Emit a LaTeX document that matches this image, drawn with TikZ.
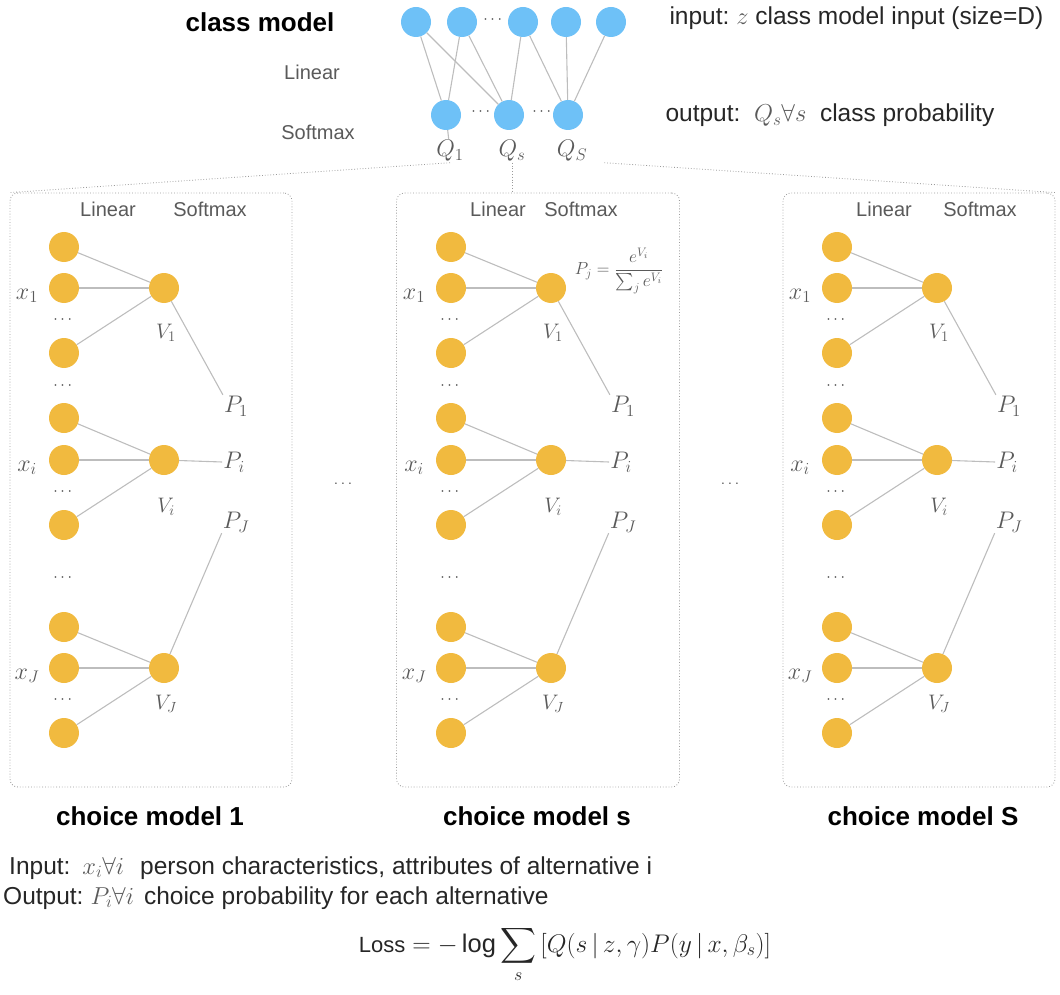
\RequirePackage{fix-cm}
\documentclass[tikz,border=0pt]{standalone}
\usepackage{amsmath}
\usepackage{fontspec}
\setmainfont{Liberation Sans}
\usetikzlibrary{positioning}
\definecolor{classblue}{HTML}{6EC1F7}
\definecolor{choiceorange}{HTML}{F1BA3F}
\definecolor{edgegray}{HTML}{BDBDBD}
\definecolor{labelgray}{HTML}{5A5A5A}
\definecolor{framegray}{HTML}{9A9A9A}
\tikzset{
  unit/.style={circle, minimum size=30pt, inner sep=0pt},
  cunit/.style={unit, fill=classblue},
  ounit/.style={unit, fill=choiceorange},
  edge/.style={draw=edgegray, line width=1.1pt},
  link/.style={draw=framegray, dotted, line width=0.8pt},
  modelbox/.style={draw=framegray, dotted, line width=0.8pt, rounded corners=8pt, minimum height=594pt},
  layertext/.style={text=labelgray, font=\fontsize{20}{24}\selectfont},
  title/.style={font=\fontsize{26}{30}\selectfont\bfseries},
  var/.style={text=labelgray, inner sep=1pt, font=\fontsize{24}{28}\selectfont},
  vlab/.style={text=labelgray, inner sep=1pt, font=\fontsize{21}{25}\selectfont},
  skip/.style={text=black!75, font=\fontsize{16}{18}\selectfont},
  note/.style={anchor=west, text=black!85, font=\fontsize{24.5}{28}\selectfont},
  footnote/.style={anchor=base west, inner sep=0pt, text=black!85, font=\fontsize{24.5}{28}\selectfont}
}
\begin{document}
\begin{tikzpicture}[x=1pt, y=-1pt]
\useasboundingbox (0,0) rectangle (1060,995);
% class model
\node[title] (classtitle) at (260,22) {class model};
\node[layertext] (classlin) at (312,72) {Linear};
\node[layertext] (classsoft) at (318,132) {Softmax};
\node[cunit] (z1) at (416,22) {};
\node[cunit] (z2) at (462,22) {};
\node[skip] (zdots) at (494,20) {$\cdots$};
\node[cunit] (z3) at (523,22) {};
\node[cunit] (z4) at (566,22) {};
\node[cunit] (z5) at (611,22) {};
\node[cunit] (q1) at (446,115) {};
\node[skip] (qdotsa) at (482,112) {$\cdots$};
\node[cunit] (qs) at (509,115) {};
\node[skip] (qdotsb) at (543,112) {$\cdots$};
\node[cunit] (qS) at (568,115) {};
\node[var] (lq1) at (450,151) {$Q_1$};
\node[var] (lqs) at (512,151) {$Q_s$};
\node[var] (lqS) at (572,151) {$Q_S$};
\draw[edge] (z1) -- (q1);
\draw[edge] (z1) -- (qs);
\draw[edge] (z2) -- (q1);
\draw[edge] (z2) -- (qs);
\draw[edge] (z3) -- (qs);
\draw[edge] (z3) -- (qS);
\draw[edge] (z4) -- (qS);
\draw[edge] (z5) -- (qS);
\draw[edge] (q1) -- (lq1);
\node[note] (classin) at (666,18) {input:~\textcolor{labelgray}{$z$}~class model input (size=D)};
\node[note] (classout) at (662,115) {output:~~\textcolor{labelgray}{$Q_s\forall s$}~~class probability};
% choice models
\foreach \b/\x/\c/\w/\lin/\soft in {1/0/151/282/108/210, s/387/538/283/498/581, S/773/919/272/884/980}{
  \node[modelbox, minimum width=\w pt] (box\b) at (\c,490) {};
  \node[layertext] (lin\b) at (\lin,209) {Linear};
  \node[layertext] (soft\b) at (\soft,209) {Softmax};
  \foreach \g/\ya/\yb/\yc/\dv in {1/247/288/353/45, i/418/460/525/47, J/627/668/733/36}{
    \node[ounit] (u\b\g a) at ({64+\x},\ya) {};
    \node[ounit] (u\b\g b) at ({64+\x},\yb) {};
    \node[ounit] (u\b\g c) at ({64+\x},\yc) {};
    \node[skip] (d\b\g) at ({64+\x},{\yb+32}) {$\cdots$};
    \node[ounit] (v\b\g) at ({164+\x},\yb) {};
    \node[var] (x\b\g) at ({27+\x},{\yb+8}) {$x_{\g}$};
    \node[vlab] (lv\b\g) at ({166+\x},{\yb+\dv}) {$V_{\g}$};
    \draw[edge] (u\b\g a) -- (v\b\g);
    \draw[edge] (u\b\g b) -- (v\b\g);
    \draw[edge] (u\b\g c) -- (v\b\g);
  }
  \node[skip] (gap\b a) at ({64+\x},386) {$\cdots$};
  \node[skip] (gap\b b) at ({64+\x},578) {$\cdots$};
  \node[var] (p\b1) at ({236+\x},406) {$P_1$};
  \node[var] (p\b i) at ({234+\x},462) {$P_i$};
  \node[var] (p\b J) at ({236+\x},522) {$P_J$};
  \draw[edge] (v\b1) -- (p\b1.north west);
  \draw[edge] (v\b i) -- (p\b i.west);
  \draw[edge] (v\b J) -- (p\b J.south west);
  \node[title] (cap\b) at ({150+\x},816) {choice model \b};
}
\node[inner sep=0pt, text=labelgray, font=\fontsize{17.5}{21}\selectfont] (softeq) at (619,271) {$P_j=\dfrac{e^{V_i}}{\sum_j e^{V_i}}$};
\node[skip] (between1) at (343,484) {$\ldots$};
\node[skip] (between2) at (730,484) {$\ldots$};
\draw[link] (lq1.south) -- (box1.north west);
\draw[link] (lqs.south) -- (lqs.south |- boxs.north);
\draw[link] ([xshift=16pt]lqS.south east) -- (boxS.north east);
% inputs, outputs and loss
\node[footnote] (chin) at (9,874) {Input:\hspace{12pt}\textcolor{labelgray}{$x_i\forall i$}\hspace{16pt}person characteristics, attributes of alternative i};
\node[footnote] (chout) at (3,904) {Output:\hspace{7pt}\textcolor{labelgray}{$P_i\forall i$}\hspace{10pt}choice probability for each alternative};
\node[anchor=base, inner sep=0pt, text=black!85, font=\fontsize{25.5}{28}\selectfont] (loss) at (565,952) {{\fontsize{22}{26}\selectfont Loss} $=-\log\displaystyle\sum_s\,[Q(s\,|\,z,\gamma)P(y\,|\,x,\beta_s)]$};
\end{tikzpicture}
\end{document}
